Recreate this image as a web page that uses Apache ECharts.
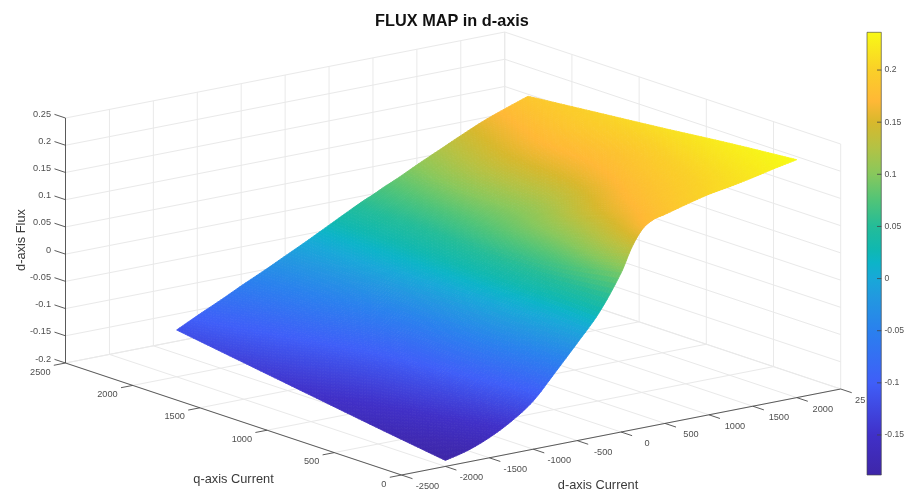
<!DOCTYPE html>
<html>
<head>
<meta charset="utf-8">
<style>html,body{margin:0;padding:0;background:#fff}#chart{width:904px;height:493px}</style>
<script src="https://cdn.jsdelivr.net/npm/echarts@6/dist/echarts.min.js"></script>
</head>
<body>
<div id="chart"></div>
<script>
const titleText = 'FLUX MAP in d-axis';
const dAxisName = 'd-axis Current';
const qAxisName = 'q-axis Current';
const zAxisName = 'd-axis Flux';

const dTicks = [-2500,-2000,-1500,-1000,-500,0,500,1000,1500,2000,2500];
const dTickLabels = ['-2500','-2000','-1500','-1000','-500','0','500','1000','1500','2000','25'];
const qTicks = [0,500,1000,1500,2000,2500];
const zTicks = [-0.2,-0.15,-0.1,-0.05,0,0.05,0.1,0.15,0.2,0.25];
const zTickLabels = ['-0.2','-0.15','-0.1','-0.05','0','0.05','0.1','0.15','0.2','0.25'];
const colorbarTicks = [-0.15,-0.1,-0.05,0,0.05,0.1,0.15,0.2];
const colorbarMin = -0.1884;
const colorbarMax = 0.2362;

// surface samples: d-axis current grid, q-axis current grid, flux per q row
const dGrid = [-2000,-1750,-1500,-1250,-1000,-750,-500,-250,0,125,250,375,500,750,1000,1250,1500,1750,2000];
const qGrid = [0,500,1000,1500,2000];
const fluxAtQ0    = [-0.189,-0.179,-0.163,-0.141,-0.1115,-0.067,-0.021,0.027,0.092,0.136,0.166,0.179,0.184,0.195,0.205,0.212,0.220,0.229,0.237];
const fluxAtQ500  = [-0.171,-0.157,-0.139,-0.118,-0.085,-0.042,-0.002,0.030,0.068,0.090,0.112,0.132,0.148,0.167,0.180,0.192,0.203,0.215,0.226];
const fluxAtQ1000 = [-0.152,-0.137,-0.121,-0.100,-0.072,-0.036,0.002,0.030,0.058,0.073,0.086,0.096,0.106,0.131,0.156,0.172,0.184,0.199,0.213];
const fluxAtQ1500 = [-0.133,-0.115,-0.097,-0.074,-0.050,-0.024,0.004,0.026,0.048,0.060,0.072,0.085,0.097,0.124,0.147,0.165,0.178,0.191,0.201];
const fluxAtQ2000 = [-0.114,-0.094,-0.075,-0.055,-0.036,-0.016,0.004,0.025,0.046,0.056,0.065,0.075,0.084,0.104,0.123,0.142,0.160,0.175,0.189];
const fluxRows = [fluxAtQ0, fluxAtQ500, fluxAtQ1000, fluxAtQ1500, fluxAtQ2000];

const colorStops = [
  [0.00,'#3e26a8'],[0.09,'#4030c8'],[0.208,'#3f5ef8'],[0.326,'#2a80ee'],[0.40,'#2298e0'],
  [0.444,'#18a8d8'],[0.48,'#0cb4c8'],[0.51,'#10b8b0'],[0.562,'#24bc98'],[0.62,'#50c478'],
  [0.68,'#88c85c'],[0.74,'#b4c244'],[0.797,'#d8b82c'],[0.844,'#ffb836'],[0.915,'#fad028'],[1.00,'#f8fa15']
];

const FONT = '"Liberation Sans", Arial, sans-serif';
const dMin = -2500, dMax = 2500, qMin = 0, qMax = 2500, zMin = -0.2, zMax = 0.25;

// orthographic view of the data cube onto the hidden unit plane of the main grid
function project(d, q, z) {
  const dn = (d - dMin) / (dMax - dMin), qn = (q - qMin) / (qMax - qMin), zn = (z - zMin) / (zMax - zMin);
  return [0.4334 + 0.5666 * dn - 0.4334 * qn, 0.1941 * dn + 0.2528 * qn + 0.5530 * zn];
}
function hexRgb(h) { return [1,3,5].map(i => parseInt(h.substr(i,2),16)); }
const stopRgb = colorStops.map(s => [s[0], hexRgb(s[1])]);
function colorOf(z) {
  const t = Math.max(0, Math.min(1, (z - colorbarMin) / (colorbarMax - colorbarMin)));
  let i = 0;
  while (i < stopRgb.length - 2 && t > stopRgb[i + 1][0]) i++;
  const a = stopRgb[i], b = stopRgb[i + 1], f = (t - a[0]) / (b[0] - a[0]);
  const c = a[1].map((v, k) => Math.round(v + (b[1][k] - v) * f));
  return 'rgb(' + c.join(',') + ')';
}
// smooth shading between the samples, like an interpolated surface plot
function hermite(xs, ys, i, s) {
  const n = xs.length, h = xs[i+1] - xs[i];
  const m0 = i > 0 ? (ys[i+1]-ys[i-1])/(xs[i+1]-xs[i-1]) : (ys[1]-ys[0])/h;
  const m1 = i < n-2 ? (ys[i+2]-ys[i])/(xs[i+2]-xs[i]) : (ys[n-1]-ys[n-2])/h;
  const s2 = s*s, s3 = s2*s;
  return (2*s3-3*s2+1)*ys[i] + (s3-2*s2+s)*h*m0 + (-2*s3+3*s2)*ys[i+1] + (s3-s2)*h*m1;
}
function surfaceAt(i, j, s, t) {
  return hermite(qGrid, fluxRows.map(r => hermite(dGrid, r, i, s)), j, t);
}

// line segments of the box
const gridSegs = [], axisSegs = [];
dTicks.forEach(d => {
  gridSegs.push([d,qMin,zMin,d,qMax,zMin]);
  gridSegs.push([d,qMax,zMin,d,qMax,zMax]);
});
qTicks.forEach(q => {
  gridSegs.push([dMin,q,zMin,dMax,q,zMin]);
  gridSegs.push([dMax,q,zMin,dMax,q,zMax]);
});
zTicks.forEach(z => {
  gridSegs.push([dMin,qMax,z,dMax,qMax,z]);
  gridSegs.push([dMax,qMin,z,dMax,qMax,z]);
});
axisSegs.push([dMin,qMax,zMin,dMin,qMin,zMin]);
axisSegs.push([dMin,qMin,zMin,dMax,qMin,zMin]);
axisSegs.push([dMin,qMax,zMin,dMin,qMax,zMax]);
const tickQ = 82, tickD = 133;
dTicks.forEach(d => axisSegs.push([d,qMin,zMin,d,qMin - tickQ,zMin]));
qTicks.forEach(q => axisSegs.push([dMin,q,zMin,dMin - tickD,q,zMin]));
zTicks.forEach(z => axisSegs.push([dMin,qMax,z,dMin,qMax + tickQ,z]));

// tick labels anchored at their axis positions
const labelItems = [];
dTicks.forEach((d,i) => labelItems.push({p:[d,qMin,zMin], t:dTickLabels[i], dx: d === dMax ? 19.5 : 26, dy:11.5, a:'center'}));
qTicks.forEach(q => labelItems.push({p:[dMin,q,zMin], t:String(q), dx:-15, dy:9, a:'right'}));
zTicks.forEach((z,i) => labelItems.push({p:[dMin,qMax,z], t:zTickLabels[i], dx:-14.5, dy:-4, a:'right'}));

// surface cells, painted from the back of the box to the front
const cells = [];
for (let j = qGrid.length - 2; j >= 0; j--)
  for (let i = dGrid.length - 2; i >= 0; i--) cells.push([i, j]);
const subD = 8, subQ = 24;

function renderSeg(params, api) {
  const a = api.coord(project(api.value(0), api.value(1), api.value(2)));
  const b = api.coord(project(api.value(3), api.value(4), api.value(5)));
  return {type:'line', shape:{x1:a[0],y1:a[1],x2:b[0],y2:b[1]}, style:api.style({fill:null})};
}
function renderCell(params, api) {
  const i = api.value(0), j = api.value(1);
  const at = (s, t) => {
    const z = surfaceAt(i, j, s, t);
    const d = dGrid[i] + (dGrid[i+1]-dGrid[i])*s, q = qGrid[j] + (qGrid[j+1]-qGrid[j])*t;
    return {z:z, pt:api.coord(project(d,q,z))};
  };
  const children = [];
  for (let tt = subQ - 1; tt >= 0; tt--) for (let ss = subD - 1; ss >= 0; ss--) {
    const a = at(ss/subD, tt/subQ), b = at((ss+1)/subD, tt/subQ), c = at((ss+1)/subD, (tt+1)/subQ), e = at(ss/subD, (tt+1)/subQ);
    const col = colorOf((a.z+b.z+c.z+e.z)/4);
    children.push({type:'polygon', shape:{points:[a.pt,b.pt,c.pt,e.pt]}, style:{fill:col, stroke:col, lineWidth:0.8}});
  }
  return {type:'group', children:children};
}
function renderLabel(params, api) {
  const it = labelItems[params.dataIndex];
  const c = api.coord(project(it.p[0], it.p[1], it.p[2]));
  return {type:'text', style:{text:it.t, x:c[0]+it.dx, y:c[1]+it.dy, align:it.a, verticalAlign:'middle', fill:'#4f4f4f', font:'9.2px '+FONT}};
}
function renderColorbar(params, api) {
  const a = api.coord([0, colorbarMax]), b = api.coord([1, colorbarMin]);
  return {type:'rect', shape:{x:a[0], y:a[1], width:b[0]-a[0], height:b[1]-a[1]},
    style:{stroke:'rgba(70,70,70,0.8)', lineWidth:0.8,
      fill:new echarts.graphic.LinearGradient(0,1,0,0,colorStops.map(s=>({offset:s[0],color:s[1]})))}};
}
function renderColorbarTick(params, api) {
  const a = api.coord([1, api.value(1)]), b = api.coord([0.7, api.value(1)]);
  return {type:'line', shape:{x1:a[0],y1:a[1],x2:b[0],y2:b[1]}, style:{stroke:'#444', lineWidth:0.8, fill:null}};
}

const chart = echarts.init(document.getElementById('chart'), null, {renderer:'canvas'});
chart.setOption({
  animation:false,
  backgroundColor:'#fff',
  title:{text:titleText, left:447, top:9, textAlign:'center',
    textStyle:{fontFamily:'Liberation Sans', fontSize:16.3, fontWeight:'bold', color:'#111'}},
  grid:[
    {left:65.5, top:32, width:775.2, height:443, outerBoundsMode:'none'},
    {left:867, top:32.3, width:14.3, height:442.7, outerBoundsMode:'none'}
  ],
  xAxis:[
    {gridIndex:0, type:'value', min:0, max:1, show:false},
    {gridIndex:1, type:'value', min:0, max:1, show:false}
  ],
  yAxis:[
    {gridIndex:0, type:'value', min:0, max:1, show:false},
    {gridIndex:1, type:'value', min:colorbarMin, max:colorbarMax, position:'right',
     axisLine:{show:false}, splitLine:{show:false}, axisTick:{show:false},
     axisLabel:{show:true, margin:3.2, customValues:colorbarTicks, color:'#4f4f4f', fontFamily:'Liberation Sans', fontSize:8.6,
       formatter:v=>String(Math.round(v*100)/100)}}
  ],
  graphic:[
    {type:'text', x:233.5, y:479, style:{text:qAxisName, align:'center', verticalAlign:'middle', fill:'#3a3a3a', font:'12.8px '+FONT}},
    {type:'text', x:598, y:485.5, style:{text:dAxisName, align:'center', verticalAlign:'middle', fill:'#3a3a3a', font:'12.8px '+FONT}},
    {type:'text', x:21, y:240, rotation:Math.PI/2, style:{text:zAxisName, align:'center', verticalAlign:'middle', fill:'#3a3a3a', font:'12.8px '+FONT}}
  ],
  series:[
    {type:'custom', xAxisIndex:0, yAxisIndex:0, clip:false, silent:true, z:1, renderItem:renderSeg, data:gridSegs,
     itemStyle:{color:'none', borderColor:'#e9e9e9', borderWidth:1}},
    {type:'custom', xAxisIndex:0, yAxisIndex:0, clip:false, silent:true, z:2, renderItem:renderCell, data:cells},
    {type:'custom', xAxisIndex:0, yAxisIndex:0, clip:false, silent:true, z:3, renderItem:renderSeg, data:axisSegs,
     itemStyle:{color:'none', borderColor:'#4a4a4a', borderWidth:0.9}},
    {type:'custom', xAxisIndex:0, yAxisIndex:0, clip:false, silent:true, z:4, renderItem:renderLabel, data:labelItems.map((_,i)=>[i])},
    {type:'custom', xAxisIndex:1, yAxisIndex:1, clip:false, silent:true, z:3, renderItem:renderColorbar, data:[[0,0]]},
    {type:'custom', xAxisIndex:1, yAxisIndex:1, clip:false, silent:true, z:4, renderItem:renderColorbarTick, data:colorbarTicks.map(v=>[1,v])}
  ]
});
</script>
</body>
</html>
